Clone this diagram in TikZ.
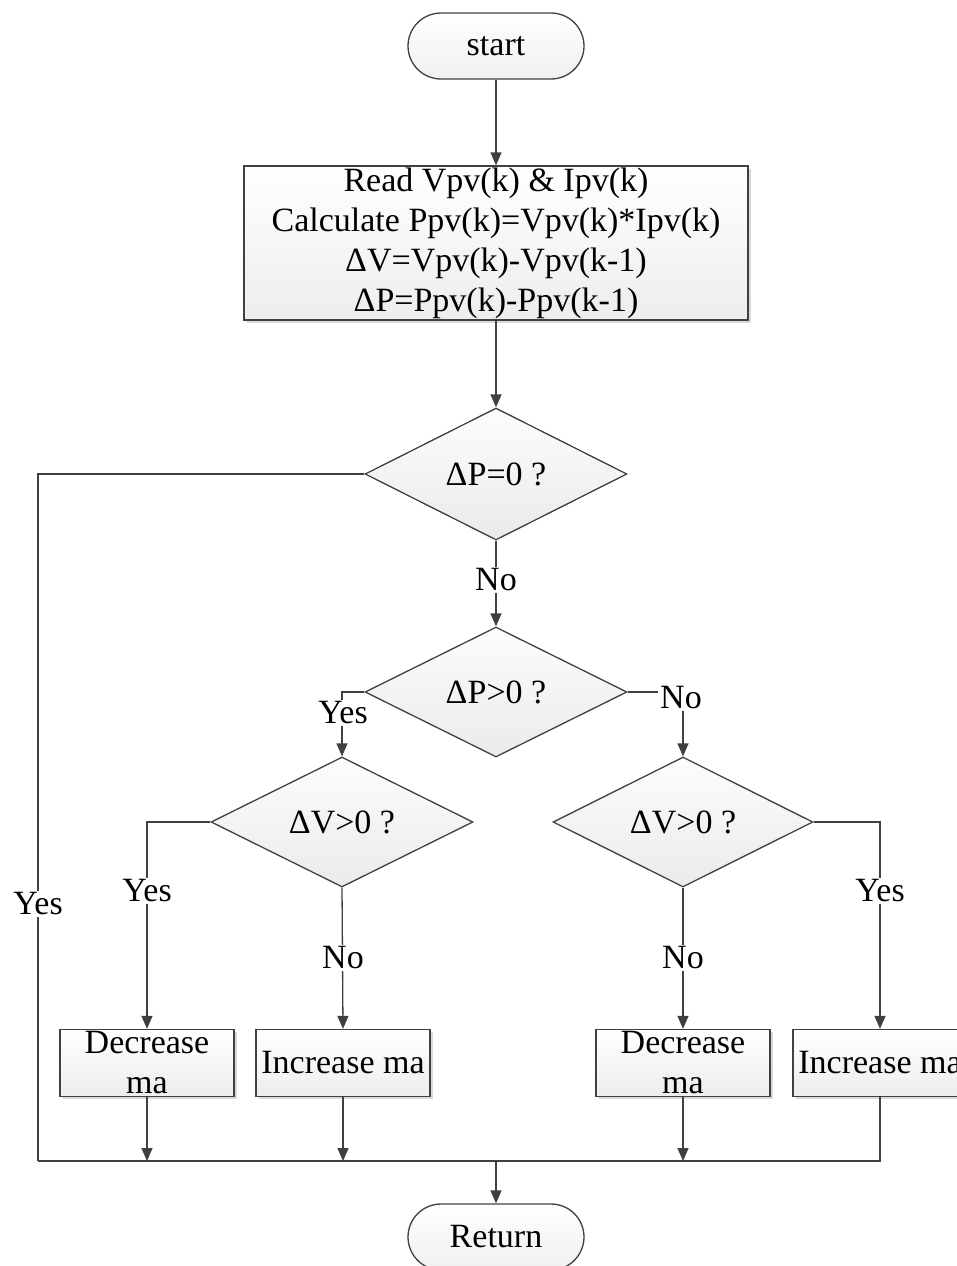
\documentclass[tikz,border=0pt]{standalone}
\usepackage{fontspec}
\setmainfont{Liberation Serif}
\usetikzlibrary{arrows.meta,shapes.geometric,shadows}

\begin{document}
\begin{tikzpicture}[x=1pt,y=-1pt,
  every node/.style={font=\fontsize{34}{40}\selectfont, text=black},
  line/.style={draw=black!75, line width=1.3pt},
  arr/.style={line, -{Triangle[length=13pt,width=11pt]}},
  term/.style={line, rounded corners=33pt, minimum width=176pt, minimum height=66pt,
    inner sep=0pt, top color=white, bottom color=gray!12},
  procbox/.style={line, inner sep=0pt, top color=white, bottom color=gray!14,
    drop shadow={shadow xshift=2.5pt, shadow yshift=-2.5pt, opacity=0.3}},
  decision/.style={line, diamond, shape aspect=2, inner sep=0pt,
    top color=gray!2, bottom color=gray!16},
  lbl/.style={fill=white, inner sep=2pt},
]
\path[use as bounding box] (0,0) rectangle (957,1266);
\clip (0,0) rectangle (957,1266);

% terminals
\node[term] (start) at (496,46) {start};
\node[term] (ret) at (496,1237) {Return};

% measurement / calculation step
\node[procbox, minimum width=504pt, minimum height=154pt, align=center] (calc) at (496,243)
  {Read Vpv(k) \& Ipv(k)\\Calculate Ppv(k)=Vpv(k)*Ipv(k)\\ΔV=Vpv(k)-Vpv(k-1)\\ΔP=Ppv(k)-Ppv(k-1)};

% decisions
\node[decision, minimum width=262pt, minimum height=132pt] (q0) at (496,474) {ΔP=0 ?};
\node[decision, minimum width=262pt, minimum height=130pt] (q1) at (496,692) {ΔP>0 ?};
\node[decision, minimum width=262pt, minimum height=130pt] (q2) at (342,822) {ΔV>0 ?};
\node[decision, minimum width=260pt, minimum height=130pt] (q3) at (683,822) {ΔV>0 ?};

% actions
\node[procbox, minimum width=174pt, minimum height=67pt, align=center] (dec1) at (147,1063) {Decrease\\ma};
\node[procbox, minimum width=174pt, minimum height=67pt, align=center] (inc1) at (343,1063) {Increase ma};
\node[procbox, minimum width=174pt, minimum height=67pt, align=center] (dec2) at (683,1063) {Decrease\\ma};
\node[procbox, minimum width=174pt, minimum height=67pt, align=center] (inc2) at (880,1063) {Increase ma};

% collecting bus
\coordinate (busL) at (38,1161);
\coordinate (busM) at (496,1161);

% connectors
\draw[arr] (start) -- (calc);
\draw[arr] (calc) -- (q0);
\draw[arr] (q0) -- (q1);
\draw[line] (q0.west) -| (busL);
\draw[line] (inc2.south) |- (busL);
\draw[arr] (dec1.south) -- (dec1.south |- busL);
\draw[arr] (inc1.south) -- (inc1.south |- busL);
\draw[arr] (dec2.south) -- (dec2.south |- busL);
\draw[arr] (busM) -- (ret);
\draw[arr] (q1.west) -| (q2.north);
\draw[arr] (q1.east) -| (q3.north);
\draw[arr] (q2.west) -| (dec1.north);
\draw[arr] (q2.south) -- (inc1.north);
\draw[arr] (q3.south) -- (dec2.north);
\draw[arr] (q3.east) -| (inc2.north);

% branch labels
\node[lbl] (yes0) at (38,904) {Yes};
\node[lbl] (no0) at (496,580) {No};
\node[lbl] (yes1) at (343,713) {Yes};
\node[lbl] (no1) at (681,698) {No};
\node[lbl] (yes2) at (147,891) {Yes};
\node[lbl] (no2) at (343,958) {No};
\node[lbl] (no3) at (683,958) {No};
\node[lbl] (yes3) at (880,891) {Yes};
\end{tikzpicture}
\end{document}
